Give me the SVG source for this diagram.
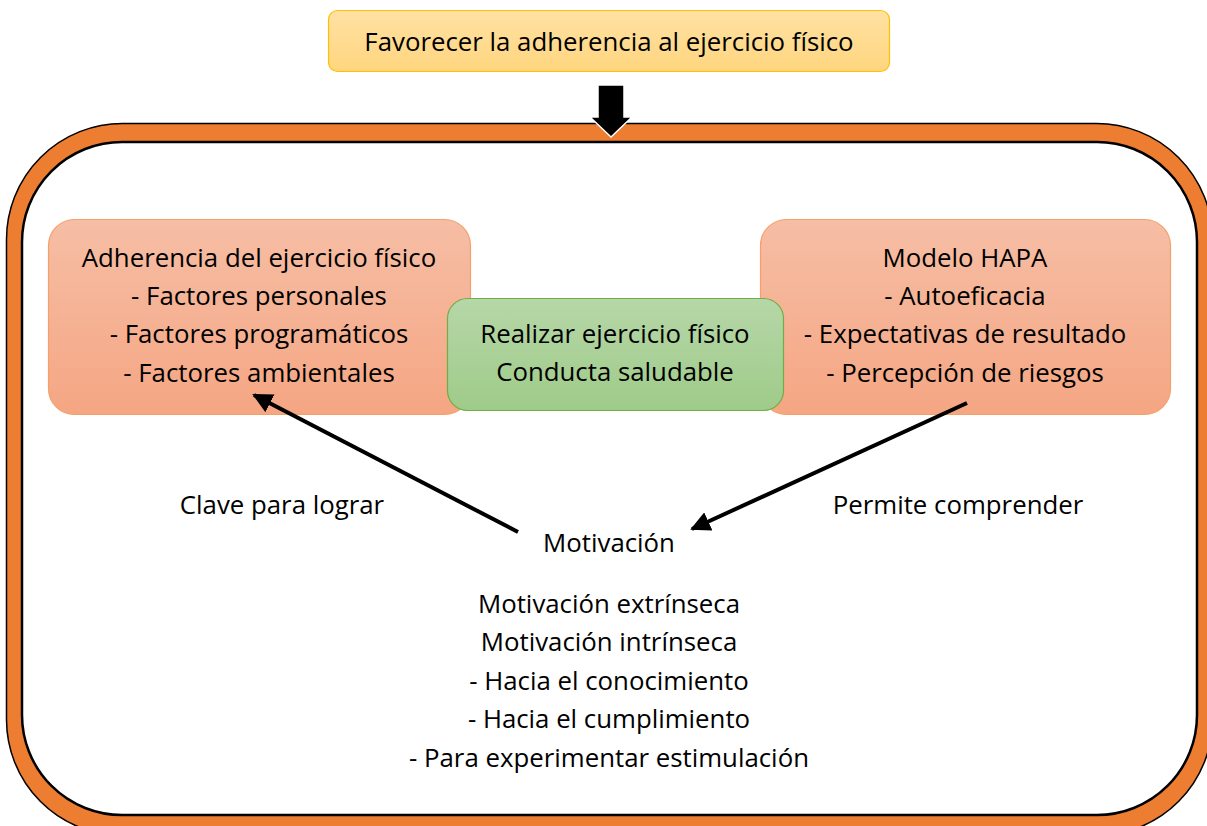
<svg xmlns="http://www.w3.org/2000/svg" width="1207" height="826" viewBox="0 0 1207 826">
<defs>
<linearGradient id="gY" x1="0" y1="0" x2="0" y2="1"><stop offset="0" stop-color="#FFE1A3"/><stop offset="1" stop-color="#FFD67F"/></linearGradient>
<linearGradient id="gO" x1="0" y1="0" x2="0" y2="1"><stop offset="0" stop-color="#F6BEA5"/><stop offset="1" stop-color="#F5A683"/></linearGradient>
<linearGradient id="gG" x1="0" y1="0" x2="0" y2="1"><stop offset="0" stop-color="#B6D7A8"/><stop offset="1" stop-color="#9FCB89"/></linearGradient>
<marker id="ah" viewBox="0 0 10 10" refX="9" refY="5" markerWidth="5" markerHeight="5" orient="auto" markerUnits="strokeWidth">
<path d="M0,0 L10,5 L0,10 z" fill="#000"/>
</marker>
<style>
text{font-family:"Open Sans","Noto Sans",sans-serif;font-size:25.8px;fill:#000;text-anchor:middle}
.orange{fill:url(#gO);stroke:#F4A06B;stroke-width:1.2}
.conn{stroke:#000;stroke-width:4;fill:none;marker-end:url(#ah)}
</style>
</defs>
<rect width="1207" height="826" fill="#fff"/>
<g id="frame">
<rect x="6.5" y="123.5" width="1206" height="712" rx="116" ry="116" fill="#ED7D31" stroke="#000" stroke-width="1.5"/>
<rect x="22" y="142" width="1175" height="673" rx="100" ry="100" fill="#fff" stroke="#000" stroke-width="2.5"/>
</g>
<g id="top">
<rect x="328.5" y="10.5" width="561" height="61" rx="9" fill="url(#gY)" stroke="#FFC000" stroke-width="1.2"/>
<text x="609" y="51">Favorecer la adherencia al ejercicio físico</text>
</g>
<g id="bigarrow">
<polygon points="598,85 624,85 624,117 632,117 611,137 590,117 598,117" fill="#000" stroke="#fff" stroke-width="1.5"/>
</g>
<g id="adherencia">
<rect class="orange" x="48.5" y="219.5" width="422" height="195" rx="26"/>
<text x="259" y="267">Adherencia del ejercicio físico</text>
<text x="259" y="305">- Factores personales</text>
<text x="259" y="343">- Factores programáticos</text>
<text x="259" y="382">- Factores ambientales</text>
</g>
<g id="hapa">
<rect class="orange" x="760.5" y="219.5" width="410" height="195" rx="26"/>
<text x="965" y="267">Modelo HAPA</text>
<text x="965" y="305">- Autoeficacia</text>
<text x="965" y="343">- Expectativas de resultado</text>
<text x="965" y="382">- Percepción de riesgos</text>
</g>
<g id="realizar">
<rect x="447.5" y="298.5" width="336" height="112" rx="20" fill="url(#gG)" stroke="#70AD47" stroke-width="1.2"/>
<text x="615" y="343">Realizar ejercicio físico</text>
<text x="615" y="381">Conducta saludable</text>
</g>
<g id="connectors">
<line class="conn" x1="518" y1="532" x2="254" y2="395"/>
<line class="conn" x1="967" y1="403" x2="692" y2="529"/>
</g>
<g id="labels">
<text x="282" y="514">Clave para lograr</text>
<text x="958" y="514">Permite comprender</text>
</g>
<g id="motivacion">
<text x="609" y="552">Motivación</text>
<text x="609" y="613">Motivación extrínseca</text>
<text x="609" y="651">Motivación intrínseca</text>
<text x="609" y="690">- Hacia el conocimiento</text>
<text x="609" y="728">- Hacia el cumplimiento</text>
<text x="609" y="767">- Para experimentar estimulación</text>
</g>
</svg>
